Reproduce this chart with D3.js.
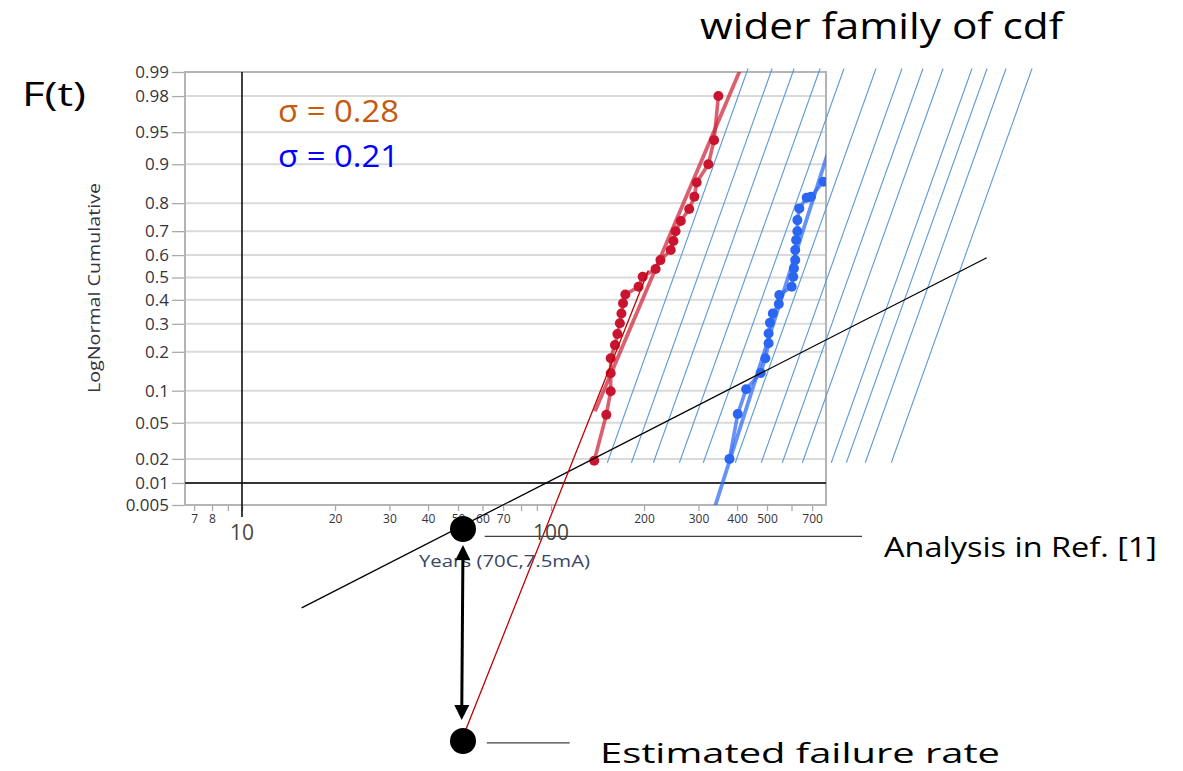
<!DOCTYPE html>
<html>
<head>
<meta charset="utf-8">
<script src="https://cdn.jsdelivr.net/npm/d3@7"></script>
<style>
  html, body { margin: 0; background: #fff; }
  svg { display: block; }
  text { font-family: "Open Sans", "Noto Sans", sans-serif; }
</style>
</head>
<body>
<svg id="chart" width="1183" height="771"></svg>
<script>
// ---- Failure data: time to failure (years) and cumulative fraction failed ----
const redYears = [138, 151, 156, 156, 156, 161, 164, 167, 169, 171, 174, 192, 198,
                  218, 226, 244, 249, 253, 263, 280, 291, 296, 323, 337, 348];
const redF     = [0.019, 0.060, 0.099, 0.139, 0.180, 0.222, 0.261, 0.302, 0.342, 0.385, 0.424, 0.458, 0.503,
                  0.538, 0.578, 0.622, 0.660, 0.700, 0.739, 0.781, 0.820, 0.859, 0.900, 0.940, 0.980];
const blueYears = [378, 402, 428, 477, 494, 506, 506, 511, 522, 546, 548, 601,
                   608, 611, 617, 617, 621, 627, 627, 636, 672, 694, 761];
const blueF     = [0.020, 0.061, 0.103, 0.140, 0.180, 0.228, 0.263, 0.304, 0.342, 0.382, 0.421, 0.458,
                   0.503, 0.541, 0.578, 0.622, 0.664, 0.700, 0.742, 0.783, 0.817, 0.820, 0.861];

// ---- Lognormal fits (median in years, sigma of ln t) ----
const redMedian = 212, redSigma = 0.28, redFitFrom = 0.065;
const blueMedian = 585, blueSigma = 0.21;

// ---- Family of wider cdf lines ----
const familyMedians = [249, 298, 351, 426, 509, 646, 784, 917, 1065, 1321, 1478, 1702, 2066];
const familySigma = 0.235;
const familyF = [0.018, 0.991];

// ---- Axes ----
const xDomain = [6.54, 776];
const yDomain = [0.005, 0.99];
const yTickValues = [0.005, 0.01, 0.02, 0.05, 0.1, 0.2, 0.3, 0.4, 0.5, 0.6, 0.7, 0.8, 0.9, 0.95, 0.98, 0.99];
const yTickLabels = ["0.005", "0.01", "0.02", "0.05", "0.1", "0.2", "0.3", "0.4", "0.5", "0.6", "0.7", "0.8", "0.9", "0.95", "0.98", "0.99"];
const xSmallLabels = [7, 8, 20, 30, 40, 50, 60, 70, 200, 300, 400, 500, 700];
const xLargeLabels = [10, 100];
const referenceYears = 10;     // vertical reference line
const referenceF = 0.01;       // horizontal reference line

// ---- Annotations, as [years, standard-normal quantile] ----
const analysisLine   = [[15.6, -3.74], [2570, 0.223]];
const extrapLine     = [[51.9, -5.20], [206.5, 0.079]];
const analysisPoint  = [51.9, -2.847];
const estimatePoint  = [51.9, -5.247];
const gapArrow       = [[51.9, -3.03], [51.4, -5.01]];
const analysisLeader = [[61, -2.93], [1015, -2.93]];
const estimateLeader = [[62, -5.27], [115, -5.27]];

// Inverse standard normal CDF (Acklam's rational approximation)
function probit(p) {
  const a = [-3.969683028665376e+01, 2.209460984245205e+02, -2.759285104469687e+02,
             1.383577518672690e+02, -3.066479806614716e+01, 2.506628277459239e+00];
  const b = [-5.447609879822406e+01, 1.615858368580409e+02, -1.556989798598866e+02,
             6.680131188771972e+01, -1.328068155288572e+01];
  const c = [-7.784894002430293e-03, -3.223964580411365e-01, -2.400758277161838e+00,
             -2.549732539343734e+00, 4.374664141464968e+00, 2.938163982698783e+00];
  const d = [7.784695709041462e-03, 3.224671290700398e-01, 2.445134137142996e+00,
             3.754408661907416e+00];
  const pl = 0.02425, ph = 1 - pl;
  let q, r;
  if (p < pl) {
    q = Math.sqrt(-2 * Math.log(p));
    return (((((c[0]*q+c[1])*q+c[2])*q+c[3])*q+c[4])*q+c[5]) /
           ((((d[0]*q+d[1])*q+d[2])*q+d[3])*q+1);
  }
  if (p <= ph) {
    q = p - 0.5; r = q * q;
    return (((((a[0]*r+a[1])*r+a[2])*r+a[3])*r+a[4])*r+a[5])*q /
           (((((b[0]*r+b[1])*r+b[2])*r+b[3])*r+b[4])*r+1);
  }
  q = Math.sqrt(-2 * Math.log(1 - p));
  return -(((((c[0]*q+c[1])*q+c[2])*q+c[3])*q+c[4])*q+c[5]) /
          ((((d[0]*q+d[1])*q+d[2])*q+d[3])*q+1);
}

const svg = d3.select("#chart");
const plot = { left: 185, right: 826, top: 72, bottom: 505 };

const x = d3.scaleLog().domain(xDomain).range([plot.left, plot.right]);
const z = d3.scaleLinear().domain(yDomain.map(probit)).range([plot.bottom, plot.top]);
const yF = f => z(probit(f));

svg.append("defs").append("clipPath").attr("id", "plotClip")
  .append("rect").attr("x", plot.left).attr("y", plot.top)
  .attr("width", plot.right - plot.left).attr("height", plot.bottom - plot.top);

// ---- Grid ----
svg.append("g").selectAll("line").data(yTickValues).join("line")
  .attr("x1", plot.left).attr("x2", plot.right)
  .attr("y1", d => yF(d)).attr("y2", d => yF(d))
  .attr("stroke", "#dadada").attr("stroke-width", 2);

// ---- Y axis ----
const yAxis = svg.append("g").attr("transform", `translate(${plot.left},0)`)
  .call(d3.axisLeft(z).tickValues(yTickValues.map(probit))
    .tickFormat((d, i) => yTickLabels[i]).tickSize(13).tickPadding(3));
yAxis.select(".domain").remove();
yAxis.selectAll(".tick line").attr("stroke", "#aaaaaa").attr("stroke-width", 1.3);
yAxis.selectAll(".tick text").attr("font-size", 17).attr("fill", "#34343e")
  .attr("font-family", "'Open Sans', sans-serif");

// ---- X axis ----
const xTicks = x.ticks().filter(v => v >= xDomain[0] && v <= xDomain[1]);
const xAxis = svg.append("g").attr("transform", `translate(0,${plot.bottom})`)
  .call(d3.axisBottom(x).tickValues(xTicks)
    .tickFormat(v => xSmallLabels.includes(v) ? String(v) : "").tickSize(6).tickPadding(3));
xAxis.select(".domain").remove();
xAxis.selectAll(".tick line").attr("stroke", "#aaaaaa").attr("stroke-width", 1.3);
xAxis.selectAll(".tick text").attr("font-size", 12).attr("fill", "#34343e")
  .attr("font-family", "'Open Sans', sans-serif");

svg.append("g").selectAll("text").data(xLargeLabels).join("text")
  .attr("x", d => x(d)).attr("y", 540).attr("text-anchor", "middle")
  .attr("font-size", 21).attr("fill", "#4a4640").text(d => d);

// ---- Plot frame ----
svg.append("rect")
  .attr("x", plot.left).attr("y", plot.top)
  .attr("width", plot.right - plot.left).attr("height", plot.bottom - plot.top)
  .attr("fill", "none").attr("stroke", "#b4b4b4").attr("stroke-width", 2);

// Reference lines
svg.append("line")
  .attr("x1", plot.left).attr("x2", plot.right)
  .attr("y1", yF(referenceF)).attr("y2", yF(referenceF))
  .attr("stroke", "#333").attr("stroke-width", 2);
svg.append("line")
  .attr("x1", x(referenceYears)).attr("x2", x(referenceYears))
  .attr("y1", plot.top).attr("y2", 517)
  .attr("stroke", "#111").attr("stroke-width", 1.6);

// Axis titles
svg.append("text")
  .attr("transform", `translate(100,288) rotate(-90)`)
  .attr("text-anchor", "middle").attr("font-size", 16).attr("fill", "#34343e")
  .attr("textLength", 210).attr("lengthAdjust", "spacingAndGlyphs")
  .text("LogNormal Cumulative");
svg.append("text")
  .attr("x", 419).attr("y", 567).attr("font-size", 17).attr("fill", "#3a4566")
  .attr("textLength", 171).attr("lengthAdjust", "spacingAndGlyphs")
  .text("Years (70C,7.5mA)");

// ---- Family of cdf lines ----
const line = d3.line().x(d => x(d[0])).y(d => z(d[1]));
const fam = familyF.map(probit);
svg.append("g").selectAll("path").data(familyMedians).join("path")
  .attr("d", m => line(fam.map(q => [m * Math.exp(familySigma * q), q])))
  .attr("fill", "none").attr("stroke", "#5b9bd5").attr("stroke-width", 1.1);

// ---- Series ----
function series(years, F, median, sigma, fromF, lineColor, dotColor) {
  const g = svg.append("g").attr("clip-path", "url(#plotClip)");
  const qs = [probit(fromF), 3.2];
  g.append("path")
    .attr("d", line(qs.map(q => [median * Math.exp(sigma * q), q])))
    .attr("fill", "none").attr("stroke", lineColor).attr("stroke-width", 3.8);
  const pts = years.map((t, i) => [t, probit(F[i])]);
  g.append("path").attr("d", line(pts))
    .attr("fill", "none").attr("stroke", lineColor).attr("stroke-width", 3.6);
  g.selectAll("circle").data(pts).join("circle")
    .attr("cx", d => x(d[0])).attr("cy", d => z(d[1])).attr("r", 5)
    .attr("fill", dotColor);
}
series(redYears, redF, redMedian, redSigma, redFitFrom, "rgba(205,35,55,0.72)", "#c8142f");
series(blueYears, blueF, blueMedian, blueSigma, 0.001, "rgba(50,110,240,0.75)", "#2b66f2");

// ---- Annotations ----
svg.append("path").attr("d", line(analysisLine))
  .attr("fill", "none").attr("stroke", "#000").attr("stroke-width", 1.3);
svg.append("path").attr("d", line(extrapLine))
  .attr("fill", "none").attr("stroke", "#c00000").attr("stroke-width", 1.3);
svg.append("path").attr("d", line(analysisLeader))
  .attr("fill", "none").attr("stroke", "#404040").attr("stroke-width", 1.3);
svg.append("path").attr("d", line(estimateLeader))
  .attr("fill", "none").attr("stroke", "#404040").attr("stroke-width", 1.3);

// double-headed arrow
const a0 = [x(gapArrow[0][0]), z(gapArrow[0][1])];
const a1 = [x(gapArrow[1][0]), z(gapArrow[1][1])];
const head = 15, half = 7.5;
const ang = Math.atan2(a1[1] - a0[1], a1[0] - a0[0]);
function arrowHead(tip, dir) {
  const ux = Math.cos(dir), uy = Math.sin(dir);
  const bx = tip[0] - ux * head, by = tip[1] - uy * head;
  return `M${tip[0]},${tip[1]}L${bx - uy * half},${by + ux * half}L${bx + uy * half},${by - ux * half}Z`;
}
svg.append("line")
  .attr("x1", a0[0] + Math.cos(ang) * 10).attr("y1", a0[1] + Math.sin(ang) * 10)
  .attr("x2", a1[0] - Math.cos(ang) * 10).attr("y2", a1[1] - Math.sin(ang) * 10)
  .attr("stroke", "#000").attr("stroke-width", 3);
svg.append("path").attr("d", arrowHead(a1, ang)).attr("fill", "#000");
svg.append("path").attr("d", arrowHead(a0, ang + Math.PI)).attr("fill", "#000");

svg.append("g").selectAll("circle").data([analysisPoint, estimatePoint]).join("circle")
  .attr("cx", d => x(d[0])).attr("cy", d => z(d[1])).attr("r", 13).attr("fill", "#000");

// ---- Slide text ----
svg.append("text").attr("x", 700).attr("y", 39).attr("font-size", 36).attr("fill", "#000")
  .attr("textLength", 363).attr("lengthAdjust", "spacingAndGlyphs").text("wider family of cdf");
svg.append("text").attr("x", 22).attr("y", 106).attr("font-size", 32).attr("fill", "#000")
  .attr("textLength", 64).attr("lengthAdjust", "spacingAndGlyphs").text("F(t)");
svg.append("text").attr("x", 278).attr("y", 122).attr("font-size", 31).attr("fill", "#c55a11")
  .attr("textLength", 121).attr("lengthAdjust", "spacingAndGlyphs").text(`σ = ${redSigma.toFixed(2)}`);
svg.append("text").attr("x", 278).attr("y", 167).attr("font-size", 31).attr("fill", "#0000ff")
  .attr("textLength", 121).attr("lengthAdjust", "spacingAndGlyphs").text(`σ = ${blueSigma.toFixed(2)}`);
svg.append("text").attr("x", 884).attr("y", 557).attr("font-size", 28).attr("fill", "#000")
  .attr("textLength", 273).attr("lengthAdjust", "spacingAndGlyphs").text("Analysis in Ref. [1]");
svg.append("text").attr("x", 600).attr("y", 763).attr("font-size", 28).attr("fill", "#000")
  .attr("textLength", 400).attr("lengthAdjust", "spacingAndGlyphs").text("Estimated failure rate");
</script>
</body>
</html>
